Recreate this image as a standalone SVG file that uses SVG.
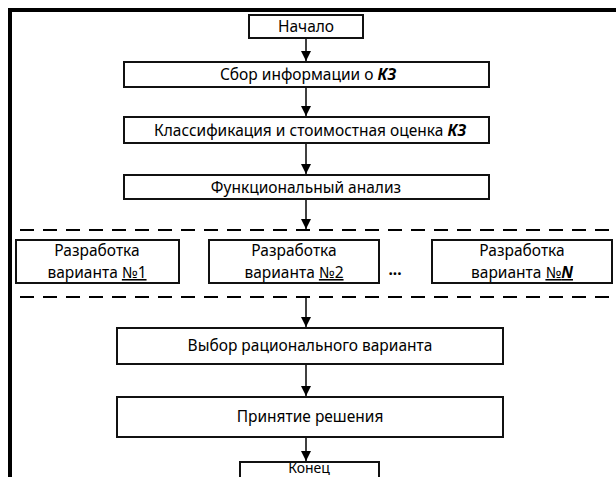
<svg xmlns="http://www.w3.org/2000/svg" width="616" height="477" viewBox="0 0 616 477">
<defs>
<marker id="ah" viewBox="0 0 10 10" refX="10" refY="5" markerWidth="10" markerHeight="10" markerUnits="userSpaceOnUse" orient="auto">
<path d="M0,0 L10,5 L0,10 z" fill="#000"/>
</marker>
</defs>
<style>
.box{fill:#fff;stroke:#111;stroke-width:2}
.t{font-family:"Noto Sans","Open Sans",sans-serif;font-size:15.5px;fill:#000;text-anchor:middle}
.b{font-weight:bold;font-style:italic}
.c{stroke:#000;stroke-width:1.5;fill:none}
.d{stroke:#000;stroke-width:2;stroke-dasharray:14 9;fill:none}
.f{stroke:#000;stroke-width:4;fill:none}
</style>
<rect width="616" height="477" fill="#fff"/>
<g id="frame">
<path class="f" d="M10,477 V10 H616"/>
</g>
<g id="separators">
<line class="d" x1="20" y1="230" x2="612" y2="230"/>
<line class="d" x1="20" y1="297" x2="612" y2="297"/>
</g>
<g id="connectors">
<line class="c" x1="306" y1="38" x2="306" y2="61" marker-end="url(#ah)"/>
<line class="c" x1="306" y1="87" x2="306" y2="116" marker-end="url(#ah)"/>
<line class="c" x1="306" y1="143" x2="306" y2="174" marker-end="url(#ah)"/>
<line class="c" x1="306" y1="199" x2="306" y2="229" marker-end="url(#ah)"/>
<line class="c" x1="306" y1="297" x2="306" y2="327" marker-end="url(#ah)"/>
<line class="c" x1="306" y1="364" x2="306" y2="396" marker-end="url(#ah)"/>
<line class="c" x1="306" y1="437" x2="306" y2="461" marker-end="url(#ah)"/>
</g>
<g id="start">
<rect class="box" x="249" y="15" width="114" height="23"/>
<text class="t" x="306" y="32">Начало</text>
</g>
<g id="collect">
<rect class="box" x="124" y="62" width="365" height="25"/>
<text class="t" x="308" y="80">Сбор информации о <tspan class="b">КЗ</tspan></text>
</g>
<g id="classify">
<rect class="box" x="124" y="117" width="365" height="26"/>
<text class="t" x="310" y="136">Классификация и стоимостная оценка <tspan class="b">КЗ</tspan></text>
</g>
<g id="func">
<rect class="box" x="124" y="175" width="365" height="24"/>
<text class="t" x="306" y="193">Функциональный анализ</text>
</g>
<g id="var1">
<rect class="box" x="16" y="240" width="163" height="43"/>
<text class="t" x="97" y="256">Разработка</text>
<text class="t" x="97" y="278">варианта <tspan text-decoration="underline">№1</tspan></text>
</g>
<g id="var2">
<rect class="box" x="209" y="240" width="170" height="43"/>
<text class="t" x="294" y="256">Разработка</text>
<text class="t" x="294" y="278">варианта <tspan text-decoration="underline">№2</tspan></text>
</g>
<g id="dots">
<text class="t" x="395" y="275" font-weight="bold">...</text>
</g>
<g id="varN">
<rect class="box" x="432" y="240" width="180" height="43"/>
<text class="t" x="522" y="256">Разработка</text>
<text class="t" x="522" y="278">варианта <tspan text-decoration="underline">№<tspan class="b">N</tspan></tspan></text>
</g>
<g id="choose">
<rect class="box" x="117" y="328" width="386" height="36"/>
<text class="t" x="310" y="351">Выбор рационального варианта</text>
</g>
<g id="decide">
<rect class="box" x="117" y="397" width="386" height="40"/>
<text class="t" x="310" y="422">Принятие решения</text>
</g>
<g id="end">
<rect class="box" x="240" y="462" width="139" height="30"/>
<text class="t" x="309" y="473" style="font-size:14px">Конец</text>
</g>
</svg>
